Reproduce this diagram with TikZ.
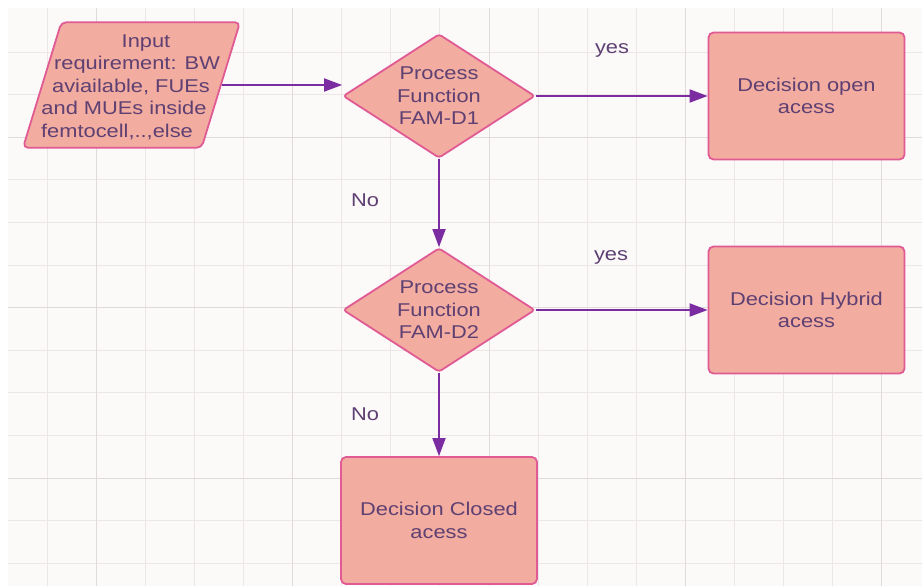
\documentclass[tikz,border=0pt]{standalone}
\usepackage{fontspec}
\setmainfont{Liberation Sans}[FakeStretch=1.18]
\usetikzlibrary{shapes.geometric,arrows.meta}
\definecolor{boxfill}{HTML}{F2ACA0}
\definecolor{boxline}{HTML}{E05A94}
\definecolor{arrowcol}{HTML}{7B2CA0}
\definecolor{txtcol}{HTML}{5E4072}
\definecolor{gridbg}{HTML}{FCF9F9}
\definecolor{gridminor}{HTML}{ECE6E6}
\definecolor{gridmajor}{HTML}{E0DADA}
\begin{document}
\begin{tikzpicture}[x=1pt,y=-1pt,>={Triangle[length=18pt,width=13pt]},
		font=\fontsize{18.5}{22.5}\selectfont,
		decbox/.style={draw=boxline,fill=boxfill,line width=1.8pt,rounded corners=5pt,
			text=txtcol,align=center,minimum width=196pt,minimum height=127pt},
		procbox/.style={diamond,draw=boxline,fill=boxfill,line width=1.8pt,rounded corners=3pt,
			text=txtcol,align=center,inner sep=0pt,aspect=1.55,minimum width=192pt,minimum height=124pt},
		inbox/.style={trapezium,trapezium left angle=73,trapezium right angle=107,trapezium stretches body=true,
			draw=boxline,fill=boxfill,line width=1.8pt,rounded corners=5pt,inner xsep=3pt,inner ysep=51.5pt,
			minimum width=217pt},
		lbl/.style={text=txtcol,align=center,inner sep=1pt},
		flow/.style={->,draw=arrowcol,fill=arrowcol,line width=1.8pt}]
	\useasboundingbox (0,0) rectangle (922,586);
	% background grid
	\fill[gridbg] (8,8) rectangle (922,586);
	\foreach \gx in {47,96.1,...,920} \draw[gridminor,line width=0.8pt] (\gx,8) -- (\gx,586);
	\foreach \gy in {52,94.6,...,586} \draw[gridminor,line width=0.8pt] (8,\gy) -- (922,\gy);
	\foreach \gx in {96.1,292.5,...,900} \draw[gridmajor,line width=0.8pt] (\gx,8) -- (\gx,586);
	\foreach \gy in {137.2,307.6,...,586} \draw[gridmajor,line width=0.8pt] (8,\gy) -- (922,\gy);
	
	% input
	\node[inbox] (input) at (131.5,85) {\strut};
	\node[lbl] (intext) at (131,87) {\hspace*{30pt}Input\\\hspace*{12pt}requirement: BW\\aviailable, FUEs\\\hspace*{-14pt}and MUEs inside\\\hspace*{-28pt}femtocell,..,else};
	
	% decisions
	\node[procbox] (famd1) at (439,96) {Process\\Function\\FAM-D1};
	\node[procbox] (famd2) at (439,310) {Process\\Function\\FAM-D2};
	\node[decbox] (open) at (806.5,96) {Decision open\\acess};
	\node[decbox] (hybrid) at (806.5,310) {Decision Hybrid\\acess};
	\node[decbox] (closed) at (439,520.5) {Decision Closed\\acess};
	
	\node[lbl] (yes1) at (612,50) {yes};
	\node[lbl] (yes2) at (611,257) {yes};
	\node[lbl] (no1) at (365,200) {No};
	\node[lbl] (no2) at (365,414) {No};
	
	\draw[flow] (input.east) -- (famd1.west |- input.east);
	\draw[flow] (famd1.east) -- (open.west);
	\draw[flow] (famd1.south) -- (famd2.north);
	\draw[flow] (famd2.east) -- (hybrid.west);
	\draw[flow] (famd2.south) -- (closed.north);
\end{tikzpicture}
\end{document}
